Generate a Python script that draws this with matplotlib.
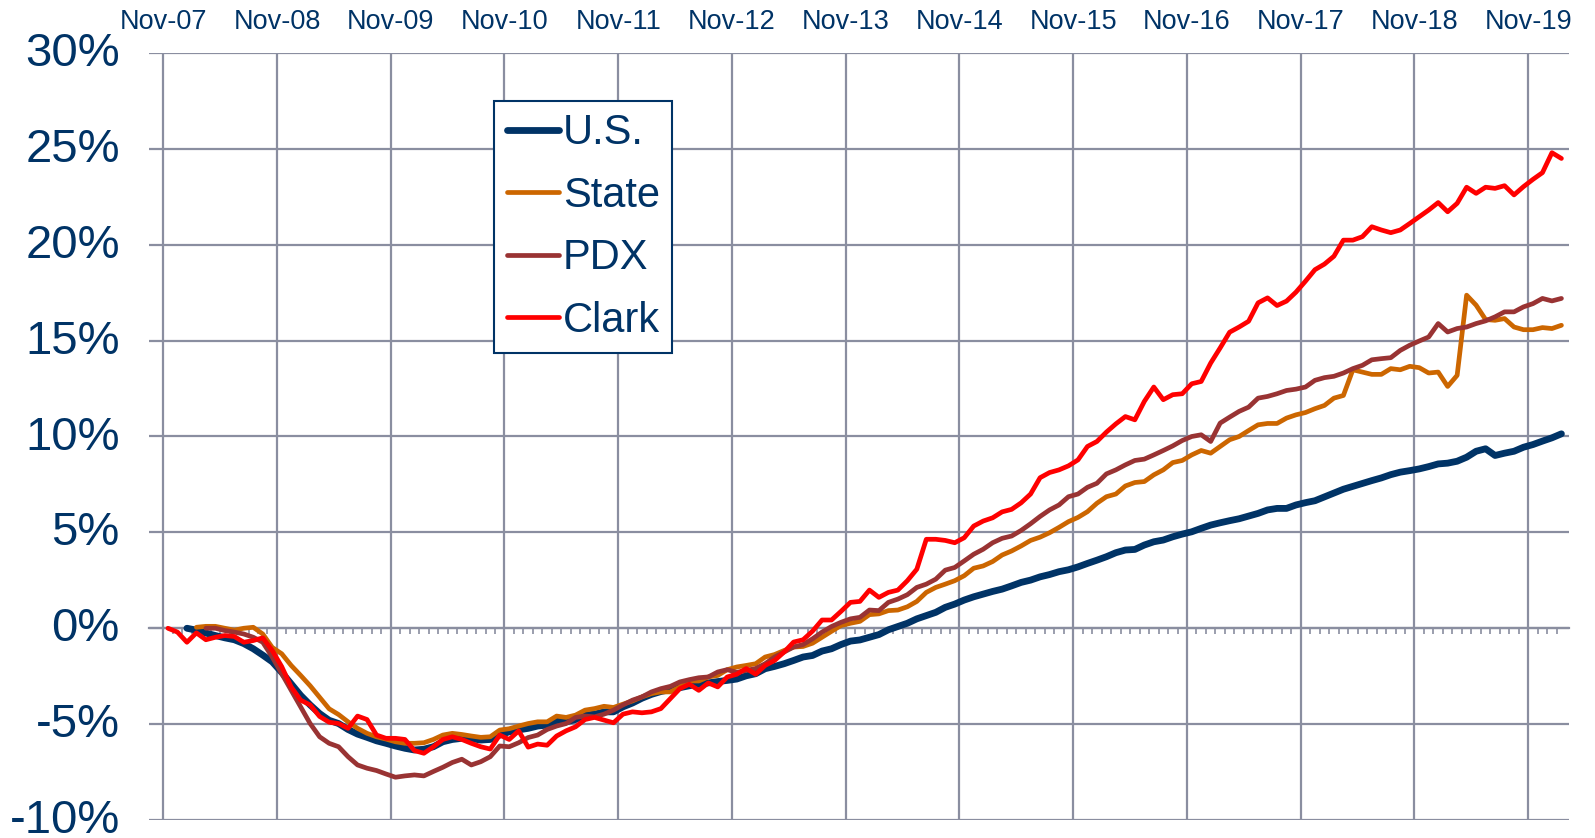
import numpy as np
import pandas as pd
import matplotlib
matplotlib.use('Agg')
import matplotlib.pyplot as plt
import matplotlib.transforms as mtransforms
from matplotlib.ticker import FixedLocator, FuncFormatter

plt.rcParams['font.family'] = ['Liberation Sans', 'DejaVu Sans']

# monthly axis: Nov-07 .. Feb-20
months = pd.period_range('2007-11', '2020-02', freq='M')

# % change from each series' start month
clark_start = '2007-11'
clark = [0.0, -0.2, -0.73, -0.24, -0.6, -0.47, -0.38, -0.43, -0.73, -0.64,
         -0.5, -1.16, -2.0, -3.06, -3.75, -4.0, -4.6, -4.9, -4.97, -5.22,
         -4.58, -4.76, -5.57, -5.74, -5.74, -5.8, -6.38, -6.52, -6.18, -5.8,
         -5.66, -5.8, -6.0, -6.18, -6.3, -5.57, -5.8, -5.35, -6.2, -6.04,
         -6.1, -5.62, -5.35, -5.14, -4.76, -4.65, -4.79, -4.93, -4.48, -4.36,
         -4.41, -4.36, -4.19, -3.67, -3.15, -2.92, -3.24, -2.85, -3.06, -2.54,
         -2.4, -2.1, -2.4, -1.94, -1.68, -1.24, -0.72, -0.6, -0.15, 0.43,
         0.43, 0.88, 1.35, 1.4, 1.99, 1.61, 1.87, 1.99, 2.48, 3.08,
         4.64, 4.64, 4.58, 4.46, 4.72, 5.33, 5.59, 5.76, 6.07, 6.2,
         6.54, 7.0, 7.85, 8.12, 8.26, 8.47, 8.78, 9.48, 9.74, 10.23,
         10.66, 11.04, 10.87, 11.83, 12.58, 11.92, 12.18, 12.23, 12.75, 12.87,
         13.83, 14.62, 15.44, 15.71, 16.01, 16.97, 17.23, 16.83, 17.06, 17.53,
         18.1, 18.7, 18.99, 19.4, 20.24, 20.24, 20.42, 20.94, 20.77, 20.63,
         20.77, 21.11, 21.46, 21.81, 22.2, 21.72, 22.16, 23.0, 22.68, 23.0,
         22.94, 23.08, 22.6, 23.03, 23.41, 23.76, 24.8, 24.5]

us_start = '2008-01'
us = [0.0, -0.1, -0.25, -0.38, -0.5, -0.6, -0.8, -1.07,
      -1.4, -1.75, -2.3, -2.9, -3.5, -4.0, -4.45, -4.8, -4.97, -5.28,
      -5.52, -5.69, -5.87, -6.0, -6.14, -6.26, -6.35, -6.31, -6.18, -5.92,
      -5.8, -5.74, -5.76, -5.83, -5.8, -5.57, -5.4, -5.3, -5.22, -5.1,
      -5.05, -4.8, -4.88, -4.76, -4.53, -4.48, -4.36, -4.36, -4.1, -3.9,
      -3.65, -3.45, -3.3, -3.2, -3.1, -3.0, -2.92, -2.85, -2.78, -2.72,
      -2.65, -2.48, -2.37, -2.11, -1.99, -1.85, -1.68, -1.5, -1.42, -1.19,
      -1.07, -0.85, -0.67, -0.61, -0.47, -0.33, -0.08, 0.09, 0.26, 0.49,
      0.66, 0.83, 1.09, 1.26, 1.47, 1.64, 1.78, 1.92, 2.04, 2.21,
      2.39, 2.51, 2.68, 2.8, 2.95, 3.05, 3.2, 3.38, 3.55, 3.73,
      3.94, 4.08, 4.11, 4.34, 4.51, 4.6, 4.77, 4.91, 5.03, 5.21,
      5.38, 5.5, 5.61, 5.71, 5.85, 5.99, 6.17, 6.25, 6.25, 6.43,
      6.55, 6.65, 6.85, 7.05, 7.25, 7.4, 7.55, 7.7, 7.84, 8.01,
      8.14, 8.22, 8.31, 8.43, 8.57, 8.61, 8.71, 8.92, 9.23, 9.36,
      9.01, 9.13, 9.23, 9.44, 9.58, 9.76, 9.93, 10.14]

state_start = '2008-02'
state = [0.05, 0.1, 0.1, 0.0, -0.1, 0.0, 0.05,
         -0.3, -1.0, -1.33, -1.94, -2.46, -3.0, -3.6, -4.2, -4.5, -4.88,
         -5.22, -5.48, -5.66, -5.78, -5.92, -6.0, -6.0, -5.97, -5.8, -5.57,
         -5.48, -5.54, -5.62, -5.69, -5.66, -5.31, -5.24, -5.1, -4.97, -4.88,
         -4.88, -4.58, -4.65, -4.53, -4.27, -4.19, -4.07, -4.13, -3.96, -3.79,
         -3.58, -3.41, -3.32, -3.32, -3.06, -2.75, -2.75, -2.54, -2.46, -2.16,
         -2.02, -1.94, -1.85, -1.5, -1.37, -1.16, -0.98, -0.95, -0.78, -0.47,
         -0.16, 0.14, 0.26, 0.36, 0.71, 0.75, 0.92, 0.95, 1.12, 1.4,
         1.87, 2.13, 2.3, 2.48, 2.74, 3.13, 3.25, 3.48, 3.82, 4.03,
         4.29, 4.58, 4.75, 4.98, 5.26, 5.56, 5.78, 6.08, 6.52, 6.86,
         7.0, 7.42, 7.6, 7.65, 8.0, 8.26, 8.64, 8.75, 9.04, 9.27,
         9.13, 9.48, 9.83, 10.0, 10.31, 10.61, 10.68, 10.68, 10.96, 11.13,
         11.25, 11.45, 11.62, 12.0, 12.14, 13.48, 13.36, 13.24, 13.24, 13.54,
         13.48, 13.66, 13.59, 13.31, 13.36, 12.61, 13.19, 17.37, 16.85, 16.1,
         16.06, 16.15, 15.71, 15.57, 15.57, 15.68, 15.63, 15.8]

pdx_start = '2008-03'
pdx = [0.0, 0.0, -0.12, -0.2, -0.3, -0.47,
       -0.73, -1.5, -2.37, -3.24, -4.1, -4.97, -5.66, -6.0, -6.18, -6.7,
       -7.13, -7.3, -7.42, -7.6, -7.77, -7.7, -7.65, -7.7, -7.47, -7.25,
       -7.0, -6.83, -7.13, -6.96, -6.7, -6.14, -6.18, -5.97, -5.7, -5.57,
       -5.28, -5.1, -4.97, -4.65, -4.58, -4.62, -4.48, -4.27, -4.0, -3.75,
       -3.58, -3.32, -3.15, -3.03, -2.8, -2.68, -2.58, -2.54, -2.28, -2.16,
       -2.3, -2.2, -2.1, -1.85, -1.5, -1.24, -0.98, -0.85, -0.55, -0.2,
       0.09, 0.31, 0.49, 0.57, 0.95, 0.92, 1.35, 1.52, 1.75, 2.13,
       2.3, 2.56, 3.03, 3.17, 3.51, 3.86, 4.12, 4.46, 4.69, 4.81,
       5.1, 5.45, 5.83, 6.17, 6.43, 6.86, 7.0, 7.35, 7.56, 8.05,
       8.26, 8.52, 8.75, 8.82, 9.04, 9.27, 9.51, 9.79, 10.0, 10.09,
       9.74, 10.7, 11.01, 11.31, 11.53, 12.0, 12.09, 12.23, 12.4, 12.47,
       12.58, 12.93, 13.07, 13.14, 13.31, 13.54, 13.71, 14.0, 14.06, 14.11,
       14.49, 14.76, 14.98, 15.19, 15.89, 15.45, 15.63, 15.71, 15.89, 16.03,
       16.24, 16.5, 16.5, 16.76, 16.93, 17.2, 17.07, 17.2]

y_ticks = [-10, -5, 0, 5, 10, 15, 20, 25, 30]

NAVY = '#003366'
GRID = '#8A8EA0'

series = [
    ('U.S.', us_start, us, NAVY, 4.9),
    ('State', state_start, state, '#CC6600', 3.4),
    ('PDX', pdx_start, pdx, '#993333', 3.4),
    ('Clark', clark_start, clark, '#FF0000', 3.4),
]

fig = plt.figure(figsize=(15.95, 8.38), dpi=100)
ax = fig.add_axes([149 / 1595, 18 / 838, 1420 / 1595, 767 / 838])

for name, start, vals, color, lw in series:
    i0 = months.get_loc(pd.Period(start, freq='M'))
    x = np.arange(i0, i0 + len(vals))
    ax.plot(x, vals, color=color, lw=lw, label=name,
            solid_joinstyle='round', solid_capstyle='round', zorder=3)

ax.set_xlim(-2, 147.8)
ax.set_ylim(y_ticks[0], y_ticks[-1])

# Nov of each year marks a category boundary
nov_idx = [i for i, p in enumerate(months) if p.month == 11]
ax.xaxis.set_major_locator(FixedLocator([i - 0.5 for i in nov_idx]))
ax.xaxis.set_minor_locator(FixedLocator(np.arange(len(months)) - 0.5))
ax.set_xticklabels([months[i].strftime('%b-%y') for i in nov_idx])

ax.set_yticks(y_ticks)
ax.yaxis.set_major_formatter(FuncFormatter(lambda v, p: f'{v:.0f}%'))

for s in ['top', 'right', 'left']:
    ax.spines[s].set_visible(False)
ax.spines['bottom'].set_position(('data', 0))
ax.spines['bottom'].set_color(GRID)
ax.spines['bottom'].set_linewidth(1.6)
ax.spines['bottom'].set_zorder(2)

ax.tick_params(axis='x', which='both', direction='out', color=GRID,
               width=1.2, top=False, labeltop=True, labelbottom=False)
ax.tick_params(axis='x', which='major', length=4, pad=9,
               labelsize=19.5, labelcolor=NAVY)
ax.tick_params(axis='x', which='minor', length=4)
ax.tick_params(axis='y', length=0, pad=21, labelsize=34, labelcolor=NAVY)

# percent labels sit a touch above their gridlines
shift = mtransforms.ScaledTranslation(0, 4 / 100, fig.dpi_scale_trans)
for lab in ax.get_yticklabels():
    lab.set_transform(lab.get_transform() + shift)

ax.grid(True, which='major', color=GRID, lw=1.6, zorder=1)
ax.set_axisbelow(True)

leg = ax.legend(loc='upper left', bbox_to_anchor=(0.243, 0.9375),
                borderaxespad=0, fontsize=30, frameon=True, fancybox=False,
                framealpha=1, edgecolor=NAVY, handlelength=1.25,
                handletextpad=0.1, labelspacing=0.54, borderpad=0.3)
leg.get_frame().set_linewidth(1.5)
for t in leg.get_texts():
    t.set_color(NAVY)

fig.savefig('out.png', dpi=100)
